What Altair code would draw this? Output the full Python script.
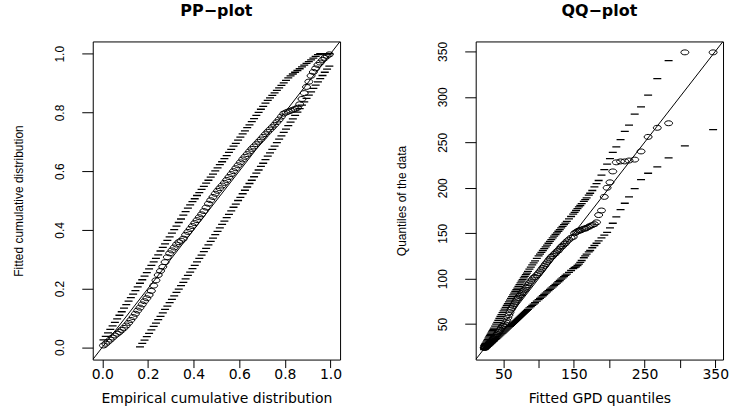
import altair as alt
import pandas as pd

# ---------------- PP-plot data ----------------
pp_emp = [0.005, 0.015, 0.025, 0.035, 0.045, 0.055, 0.065, 0.075, 0.085, 0.095,
          0.105, 0.115, 0.125, 0.135, 0.145, 0.155, 0.165, 0.175, 0.185, 0.195,
          0.205, 0.215, 0.225, 0.235, 0.245, 0.255, 0.265, 0.275, 0.285, 0.295,
          0.305, 0.315, 0.325, 0.335, 0.345, 0.355, 0.365, 0.375, 0.385, 0.395,
          0.405, 0.415, 0.425, 0.435, 0.445, 0.455, 0.465, 0.475, 0.485, 0.495,
          0.505, 0.515, 0.525, 0.535, 0.545, 0.555, 0.565, 0.575, 0.585, 0.595,
          0.605, 0.615, 0.625, 0.635, 0.645, 0.655, 0.665, 0.675, 0.685, 0.695,
          0.705, 0.715, 0.725, 0.735, 0.745, 0.755, 0.765, 0.775, 0.785, 0.795,
          0.805, 0.815, 0.825, 0.835, 0.845, 0.855, 0.865, 0.875, 0.885, 0.895,
          0.905, 0.915, 0.925, 0.935, 0.945, 0.955, 0.965, 0.975, 0.985, 0.995]
pp_fit = [0.006, 0.012, 0.019, 0.026, 0.033, 0.040, 0.046, 0.052, 0.059, 0.066,
          0.074, 0.083, 0.093, 0.103, 0.114, 0.125, 0.135, 0.146, 0.157, 0.167,
          0.178, 0.192, 0.210, 0.228, 0.246, 0.260, 0.274, 0.290, 0.307, 0.320,
          0.330, 0.340, 0.350, 0.358, 0.363, 0.370, 0.383, 0.393, 0.403, 0.413,
          0.423, 0.433, 0.443, 0.453, 0.464, 0.476, 0.489, 0.501, 0.512, 0.523,
          0.533, 0.542, 0.551, 0.560, 0.570, 0.580, 0.590, 0.600, 0.610, 0.620,
          0.630, 0.640, 0.649, 0.658, 0.667, 0.676, 0.684, 0.692, 0.700, 0.708,
          0.717, 0.726, 0.734, 0.742, 0.750, 0.758, 0.767, 0.776, 0.786, 0.796,
          0.800, 0.803, 0.806, 0.809, 0.812, 0.816, 0.828, 0.846, 0.866, 0.887,
          0.905, 0.925, 0.938, 0.950, 0.962, 0.970, 0.979, 0.986, 0.993, 0.998]
pp_upper = [0.025, 0.037, 0.049, 0.061, 0.073, 0.085, 0.097, 0.109, 0.121, 0.133,
            0.145, 0.157, 0.169, 0.181, 0.193, 0.206, 0.218, 0.230, 0.242, 0.254,
            0.267, 0.279, 0.291, 0.303, 0.315, 0.328, 0.340, 0.352, 0.364, 0.376,
            0.389, 0.401, 0.413, 0.425, 0.437, 0.450, 0.462, 0.474, 0.485, 0.496,
            0.506, 0.517, 0.527, 0.538, 0.548, 0.559, 0.569, 0.580, 0.590, 0.601,
            0.611, 0.622, 0.632, 0.643, 0.653, 0.664, 0.674, 0.685, 0.695, 0.706,
            0.716, 0.727, 0.737, 0.748, 0.758, 0.769, 0.779, 0.790, 0.800, 0.811,
            0.821, 0.832, 0.841, 0.850, 0.858, 0.867, 0.875, 0.884, 0.892, 0.901,
            0.909, 0.918, 0.925, 0.931, 0.937, 0.943, 0.949, 0.955, 0.961, 0.967,
            0.973, 0.979, 0.985, 0.991, 0.997, 1.000, 1.000, 1.000, 1.000, 1.000]
pp_lower = [None, None, None, None, None, None, None, None, None, None,
            None, None, None, None, None, None, 0.001, 0.013, 0.024, 0.036,
            0.047, 0.059, 0.071, 0.082, 0.094, 0.105, 0.117, 0.129, 0.140, 0.152,
            0.163, 0.175, 0.187, 0.198, 0.210, 0.221, 0.233, 0.245, 0.256, 0.268,
            0.279, 0.291, 0.303, 0.314, 0.326, 0.337, 0.349, 0.361, 0.372, 0.384,
            0.395, 0.407, 0.419, 0.430, 0.442, 0.453, 0.465, 0.477, 0.488, 0.500,
            0.511, 0.523, 0.535, 0.546, 0.558, 0.569, 0.581, 0.593, 0.604, 0.616,
            0.627, 0.639, 0.651, 0.662, 0.674, 0.685, 0.697, 0.709, 0.720, 0.732,
            0.743, 0.755, 0.767, 0.778, 0.790, 0.801, 0.813, 0.825, 0.836, 0.848,
            0.859, 0.870, 0.882, 0.893, 0.904, 0.915, 0.926, 0.937, 0.948, 0.958]

# ---------------- QQ-plot data ----------------
qq_fit = [23, 23.5, 24, 24.5, 25, 26, 27, 28, 29, 30, 31, 32, 33, 34, 35, 36, 37, 38.5, 40,
          41.5, 43, 44.5, 46, 47.5, 49,
          50.5, 52, 53.5, 55, 56.5, 58, 59.5, 61, 62.5, 64, 65.5, 67, 68.5, 70, 71.5, 73,
          74.5, 76, 77.5, 79, 80.5, 82, 83.5, 85, 87, 89, 91, 93, 95, 97.5,
          100, 102, 104, 106, 108, 110, 112, 114, 116, 118, 120, 122, 124, 126, 128, 130,
          132, 134, 136, 138, 140, 143, 146, 149, 151,
          153, 155, 157, 159, 161, 164, 166, 168, 171, 173, 176, 179, 182, 185, 189, 193,
          197, 201, 205, 210, 216, 222, 228, 236, 245, 255, 268, 284, 307, 347]
qq_data = [24, 24, 24, 25, 25, 26, 26, 27, 28, 29, 30, 30, 31, 32, 33, 34, 35, 36, 38,
           39, 41, 42, 44, 46, 48,
           48, 50, 52, 54, 57, 60, 63, 66, 68, 70, 72, 74, 76, 78, 79, 81,
           82, 84, 85, 87, 88, 90, 91, 93, 95, 97, 99, 101, 102, 104,
           106, 108, 110, 112, 114, 116, 118, 120, 122, 124, 125, 127, 128, 130, 131, 133,
           135, 136, 138, 139, 141, 143, 145, 146, 150,
           151, 152, 153, 153, 154, 155, 155, 156, 157, 158, 159, 160, 162, 170, 175, 190,
           200, 206, 218, 228, 229, 229, 230, 231, 240, 256, 266, 271, 349, 349]
qq_upper = [26, 26.7, 27.4, 28.1, 28.8, 30.2, 31.6, 33, 34.5, 35.9, 37.3, 38.7, 40.1, 41.5,
            42.9, 44.3, 45.7, 47.8, 49.9, 52, 54.1, 56.2, 58.4, 60.5, 62.6,
            64.6, 66.6, 68.5, 70.5, 72.4, 74.4, 76.3, 78.3, 80.2, 82.1, 84, 85.9, 87.8, 89.7,
            91.6, 93.5, 95.4, 97.2, 99, 100.8, 102.6, 104.4, 106.2, 108, 110.4, 112.8, 115.1,
            117.4, 119.6, 122.4,
            125, 127, 129, 131, 133, 135, 137, 139, 141, 143, 145, 146.8, 148.6, 150.4, 152.2,
            154, 155.8, 157.6, 159.4, 161.2, 163, 165.7, 168.4, 171.1, 173,
            175, 177, 179, 180.5, 182.5, 185, 187, 189, 192, 194, 197, 201, 204.5, 208, 214,
            220, 226, 232, 239, 245, 253, 262, 269, 281, 289, 302, 320, 340, None, None]
qq_lower = [22, 22.4, 22.7, 23.1, 23.4, 24.1, 24.8, 25.5, 26.2, 26.9, 27.6, 28.3, 29, 29.7,
            30.4, 31.1, 31.8, 32.9, 33.9, 34.9, 36, 37.1, 38.1, 39.2, 40.2,
            41.3, 42.4, 43.4, 44.5, 45.5, 46.6, 47.6, 48.7, 49.8, 50.9, 52, 53.1, 54.2, 55.3,
            56.4, 57.5, 58.6, 59.7, 60.8, 61.9, 63, 64.1, 65.2, 66.3, 67.8, 69.3, 70.7, 72.1,
            73.5, 75.2,
            77, 78.4, 79.8, 81.2, 82.6, 84, 85.4, 86.8, 88.2, 89.6, 91, 92.4, 93.8, 95.2, 96.6,
            98, 99.4, 100.8, 102.2, 103.6, 105, 107, 109, 111, 112.3,
            113, 114.5, 116, 118, 120, 123, 125, 127, 129.5, 131, 134, 136.5, 139, 141.5, 145,
            148, 151, 156, 161, 168, 176, 183, 190, 199, 209, 216, 223, 233, 246, 264]

pp_ticks = [0.0, 0.2, 0.4, 0.6, 0.8, 1.0]
qq_ticks = [50, 100, 150, 200, 250, 300, 350]
pp_range = [-0.042, 1.042]
qq_range = [11, 361]

ELLIPSE = "M-1,0A1,0.62 0 1,1 1,0A1,0.62 0 1,1 -1,0Z"
DASH = "M-1,0L1,0"
NARROW = "Liberation Sans Narrow, Liberation Sans, Arial"
WIDE = "DejaVu Sans"


def panel(xv, yv, lo, hi, dom, ticks, title, xtitle, ytitle, xlabel_expr, fmt):
    pts = pd.DataFrame({"x": xv, "y": yv})
    band = pd.DataFrame({"x": list(xv) + list(xv), "y": list(lo) + list(hi)}).dropna()
    diag = pd.DataFrame({"x": dom, "y": dom})

    xaxis = alt.Axis(values=ticks, title=xtitle, domain=False, grid=False,
                     tickSize=8, tickColor="black", tickWidth=1,
                     labelFont=WIDE, labelFontSize=14, labelColor="black",
                     labelPadding=0, labelFlush=False, labelOverlap=False,
                     format=fmt, labelExpr=xlabel_expr,
                     titleFont=WIDE, titleFontSize=14, titleFontWeight="normal",
                     titleColor="black", titlePadding=10)
    yaxis = alt.Axis(values=ticks, title=ytitle, domain=False, grid=False,
                     tickSize=11, tickColor="black", tickWidth=1,
                     labelFont=NARROW, labelFontSize=12, labelColor="black",
                     labelAngle=-90, labelAlign="center", labelBaseline="bottom",
                     labelPadding=15, labelFlush=False, labelOverlap=False,
                     format=fmt,
                     titleFont=NARROW, titleFontSize=12, titleFontWeight="normal",
                     titleColor="black", titlePadding=28)
    xs = alt.Scale(domain=dom, nice=False, zero=False)
    ys = alt.Scale(domain=dom, nice=False, zero=False)
    xe = alt.X("x:Q", scale=xs, axis=xaxis)
    ye = alt.Y("y:Q", scale=ys, axis=yaxis)

    circles = alt.Chart(pts).mark_point(shape=ELLIPSE, size=64, filled=False,
                                        stroke="black", strokeWidth=1,
                                        opacity=1, clip=True).encode(x=xe, y=ye)
    dashes = alt.Chart(band).mark_point(shape=DASH, size=64, filled=False,
                                        stroke="black", strokeWidth=1.3,
                                        opacity=1, clip=True).encode(x=xe, y=ye)
    line = alt.Chart(diag).mark_line(color="black", strokeWidth=1,
                                     clip=True).encode(x=xe, y=ye)
    return alt.layer(circles, dashes, line).properties(
        width=248, height=319,
        title=alt.Title(title, font=WIDE, fontSize=16, fontWeight="bold",
                        color="black", anchor="middle", baseline="alphabetic",
                        offset=10))


left = panel(pp_emp, pp_fit, pp_lower, pp_upper, pp_range, pp_ticks,
             "PP\u2212plot", "Empirical cumulative distribution",
             "Fitted cumulative distribution", "datum.label", ".1f")
right = panel(qq_fit, qq_data, qq_lower, qq_upper, qq_range, qq_ticks,
              "QQ\u2212plot", "Fitted GPD quantiles", "Quantiles of the data",
              "datum.value % 100 == 50 ? datum.label : ''", "d")

chart = alt.hconcat(left, right, spacing=52).properties(
    padding={"left": 12, "top": 1, "right": 0, "bottom": 0},
    background="white",
).configure_view(stroke="black", strokeWidth=1)

chart.save("out.html", embed_options={"renderer": "svg", "actions": False})
